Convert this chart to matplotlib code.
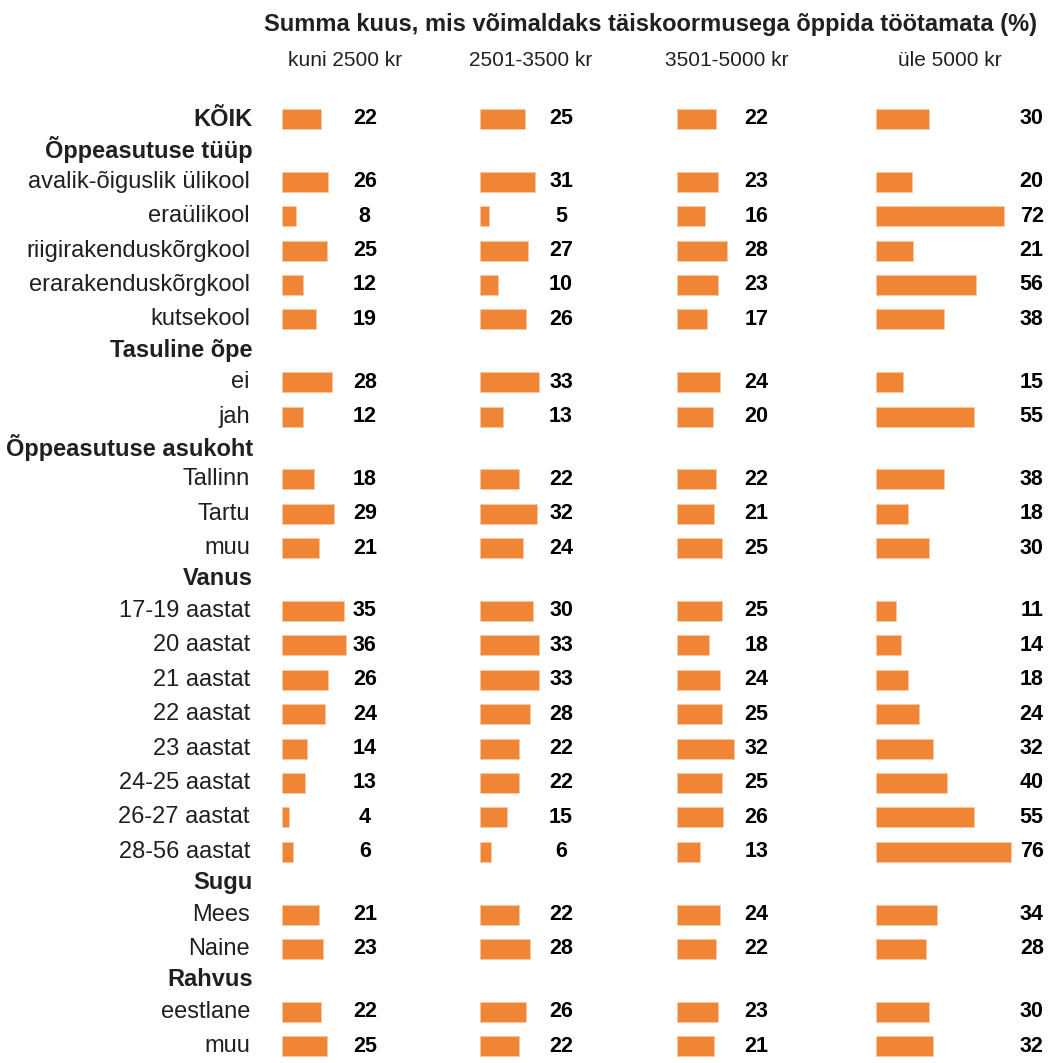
import matplotlib
matplotlib.use("Agg")
import matplotlib.pyplot as plt
import matplotlib.transforms as mtransforms

plt.rcParams["font.family"] = ["Liberation Sans", "DejaVu Sans"]

TITLE = "Summa kuus, mis võimaldaks täiskoormusega õppida töötamata (%)"
COLUMNS = ["kuni 2500 kr", "2501-3500 kr", "3501-5000 kr", "üle 5000 kr"]

# (label, is_header, bold)
ROWS = [
    ("KÕIK", False, True),
    ("Õppeasutuse tüüp", True, True),
    ("avalik-õiguslik ülikool", False, False),
    ("eraülikool", False, False),
    ("riigirakenduskõrgkool", False, False),
    ("erarakenduskõrgkool", False, False),
    ("kutsekool", False, False),
    ("Tasuline õpe", True, True),
    ("ei", False, False),
    ("jah", False, False),
    ("Õppeasutuse asukoht", True, True),
    ("Tallinn", False, False),
    ("Tartu", False, False),
    ("muu", False, False),
    ("Vanus", True, True),
    ("17-19 aastat", False, False),
    ("20 aastat", False, False),
    ("21 aastat", False, False),
    ("22 aastat", False, False),
    ("23 aastat", False, False),
    ("24-25 aastat", False, False),
    ("26-27 aastat", False, False),
    ("28-56 aastat", False, False),
    ("Sugu", True, True),
    ("Mees", False, False),
    ("Naine", False, False),
    ("Rahvus", True, True),
    ("eestlane", False, False),
    ("muu", False, False),
]

# values for the data rows only, in order
kuni_2500 = [22, 26, 8, 25, 12, 19, 28, 12, 18, 29, 21, 35, 36, 26, 24, 14, 13, 4, 6, 21, 23, 22, 25]
r2501_3500 = [25, 31, 5, 27, 10, 26, 33, 13, 22, 32, 24, 30, 33, 33, 28, 22, 22, 15, 6, 22, 28, 26, 22]
r3501_5000 = [22, 23, 16, 28, 23, 17, 24, 20, 22, 21, 25, 25, 18, 24, 25, 32, 25, 26, 13, 24, 22, 23, 21]
yle_5000 = [30, 20, 72, 21, 56, 38, 15, 55, 38, 18, 30, 11, 14, 18, 24, 32, 40, 55, 76, 34, 28, 30, 32]
SERIES = [kuni_2500, r2501_3500, r3501_5000, yle_5000]

BAR_COLOR = "#F08536"
TEXT_COLOR = "#231F20"

W, H = 1048, 1063

# vertical layout (pixels from top)
ypos = []
y = 119.0
for i, (lab, hdr, bold) in enumerate(ROWS):
    if i > 0:
        if hdr:
            y += 30.8
        elif ROWS[i - 1][1]:
            y += 32.0
        else:
            y += 34.4
    ypos.append(y)

data_y = [yy for yy, row in zip(ypos, ROWS) if not row[1]]

fig = plt.figure(figsize=(W / 100, H / 100), dpi=100)

col_left = [282, 480, 677, 876]
col_width = 178  # px -> 100 units
value_x = [46.5, 45.5, 44.5, 87.5]  # label position in % units
header_x = [345, 531, 727, 950]

axes = []
for k in range(4):
    ax = fig.add_axes([col_left[k] / W, 0, col_width / W, 1])
    ax.set_xlim(0, 100)
    ax.set_ylim(H, 0)
    ax.axis("off")
    ax.barh(data_y, SERIES[k], height=20, left=0, color=BAR_COLOR,
            edgecolor="#F7C9A5", linewidth=0.6)
    for yy, v in zip(data_y, SERIES[k]):
        ax.text(value_x[k], yy, str(v), ha="center", va="center",
                fontsize=15.5, fontweight="bold", color="black", clip_on=False)
    axes.append(ax)

# row labels
trans = mtransforms.blended_transform_factory(fig.transFigure, axes[0].transData)
for yy, (lab, hdr, bold) in zip(ypos, ROWS):
    axes[0].text(250 / W if not bold else 253 / W, yy, lab, transform=trans,
                 ha="right", va="center", fontsize=17,
                 fontweight="bold" if bold else "normal",
                 color=TEXT_COLOR, clip_on=False)

# column headers and title
for k, name in enumerate(COLUMNS):
    fig.text(header_x[k] / W, 1 - 60 / H, name, ha="center", va="center",
             fontsize=15, color=TEXT_COLOR)
fig.text(650 / W, 1 - 24 / H, TITLE, ha="center", va="center",
         fontsize=17, fontweight="bold", color=TEXT_COLOR)

fig.savefig("out.png", dpi=100, facecolor="white")
